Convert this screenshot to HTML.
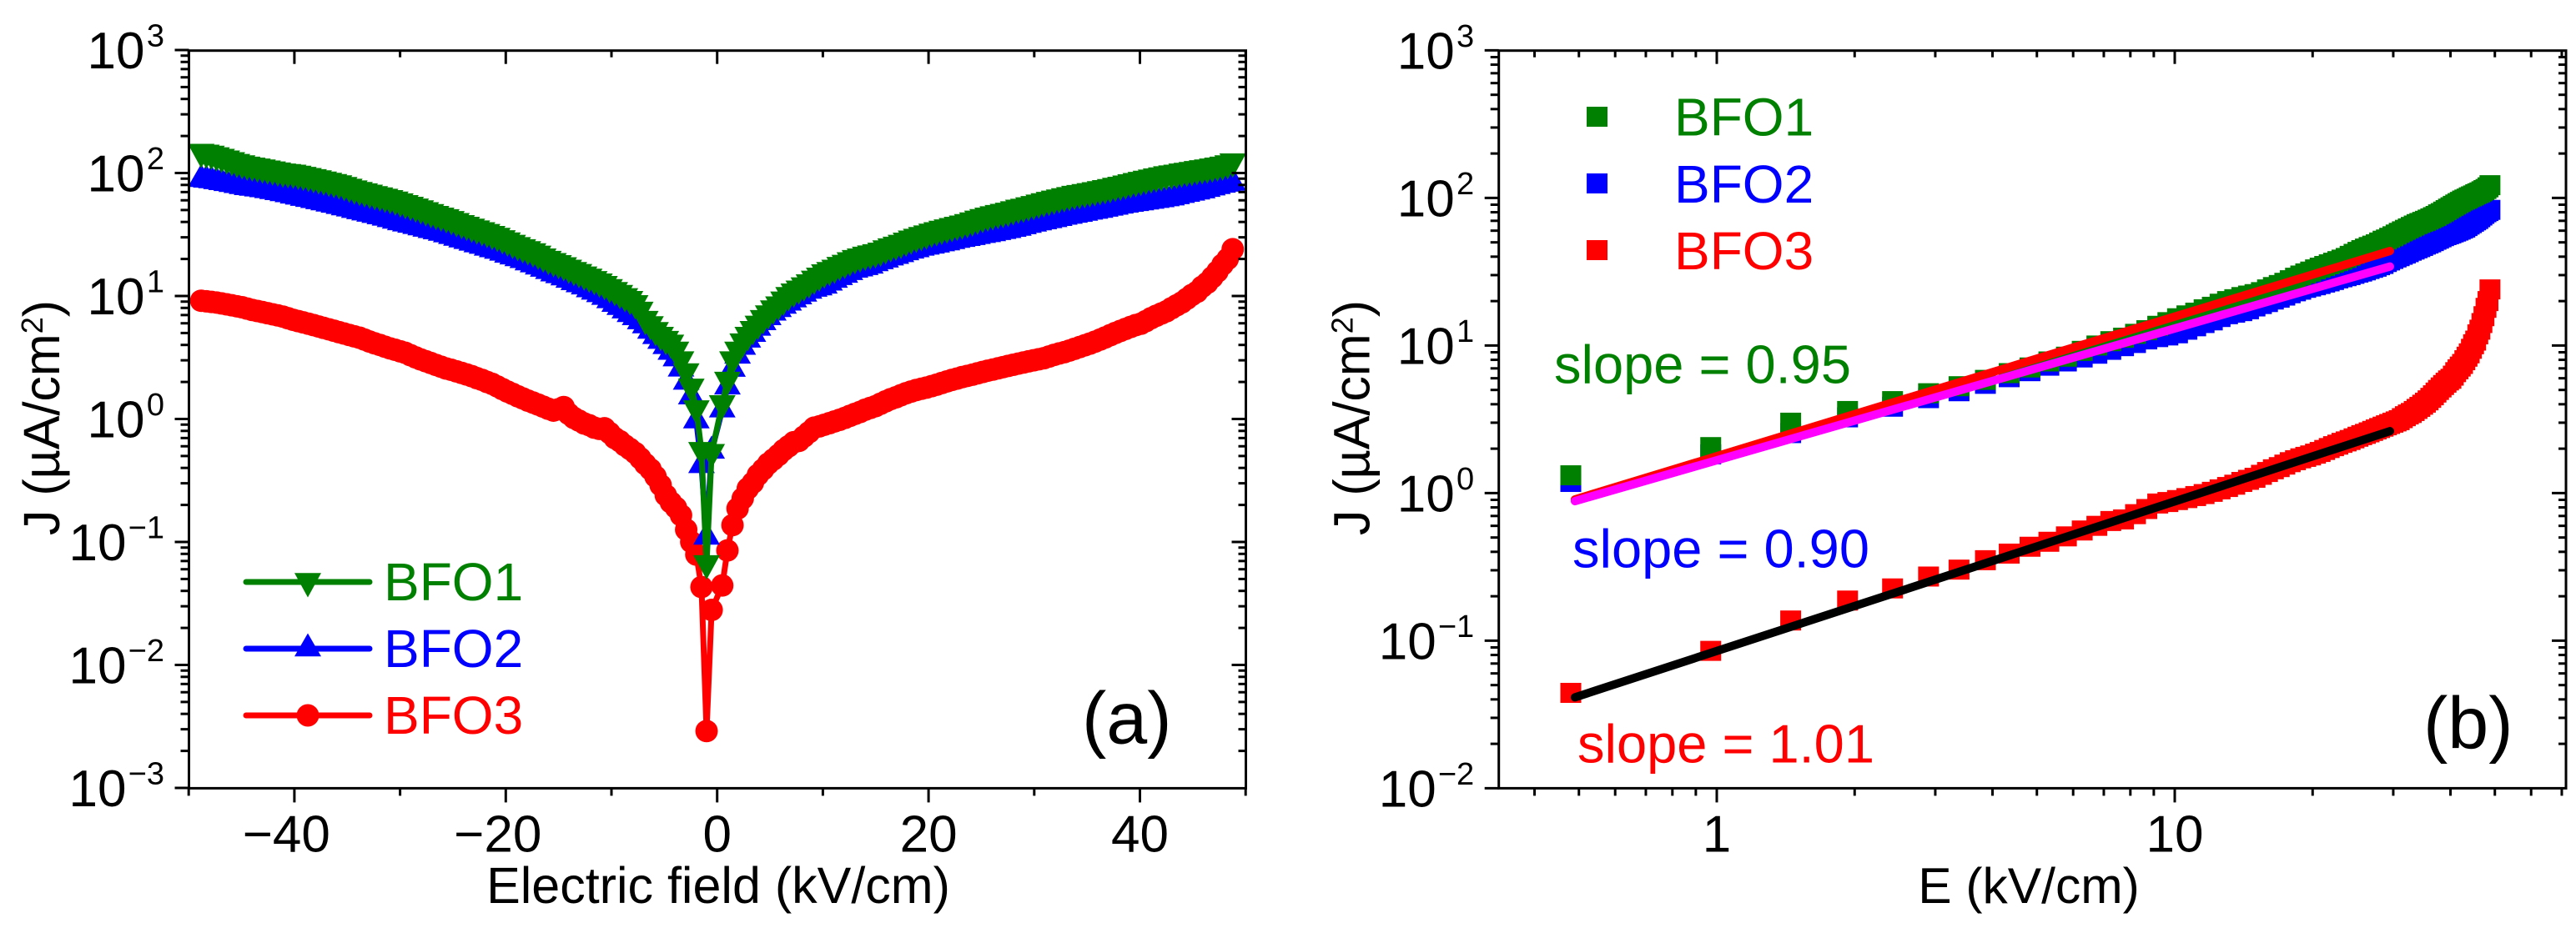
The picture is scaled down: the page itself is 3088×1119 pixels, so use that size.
<!DOCTYPE html>
<html lang="en">
<head>
<meta charset="utf-8">
<title>J-E curves of BFO1, BFO2, BFO3</title>
<style>
html,body{margin:0;padding:0;background:#fff;}
svg{display:block;}
text{font-family:"Liberation Sans",Arial,sans-serif;}
</style>
</head>
<body>
<svg id="fig" xmlns="http://www.w3.org/2000/svg" width="3088" height="1119" viewBox="0 0 3088 1119">
  <rect x="0" y="0" width="3088" height="1119" fill="#fff"/>
  <g id="panelA"></g>
  <g id="panelB"></g>

  <g>
    <g>
      <line x1="295" y1="698" x2="443" y2="698" stroke="#008000" stroke-width="7" stroke-linecap="round"/>
      <polygon points="353,687.3 385,687.3 369,716.5" fill="#008000"/>
      <text x="460" y="720" font-size="64" fill="#008000">BFO1</text>
    </g>
    <g>
      <line x1="295" y1="778" x2="443" y2="778" stroke="#0000ff" stroke-width="7" stroke-linecap="round"/>
      <polygon points="353,787.3 385,787.3 369,759.5" fill="#0000ff"/>
      <text x="460" y="800" font-size="64" fill="#0000ff">BFO2</text>
    </g>
    <g>
      <line x1="295" y1="858" x2="443" y2="858" stroke="#ff0000" stroke-width="7" stroke-linecap="round"/>
      <circle cx="369" cy="858" r="13.5" fill="#ff0000"/>
      <text x="460" y="880" font-size="64" fill="#ff0000">BFO3</text>
    </g>
  </g>

  <g>
    <rect x="1902" y="128" width="25" height="24" fill="#008000"/>
    <text x="2007" y="162.5" font-size="64" fill="#008000">BFO1</text>
    <rect x="1902" y="208" width="25" height="24" fill="#0000ff"/>
    <text x="2007" y="243" font-size="64" fill="#0000ff">BFO2</text>
    <rect x="1902" y="288" width="25" height="24" fill="#ff0000"/>
    <text x="2007" y="323" font-size="64" fill="#ff0000">BFO3</text>
  </g>

  <text x="1863" y="459.6" font-size="65" fill="#008000">slope = 0.95</text>
  <text x="1885" y="680.5" font-size="65" fill="#0000ff">slope = 0.90</text>
  <text x="1891" y="914.7" font-size="65" fill="#ff0000">slope = 1.01</text>

  <text x="1297" y="891.6" font-size="88" fill="#000">(a)</text>
  <text x="2905" y="897.6" font-size="88" fill="#000">(b)</text>

  <text x="861" y="1083" font-size="61" text-anchor="middle" fill="#000">Electric field (kV/cm)</text>
  <text x="2432" y="1083" font-size="60.5" text-anchor="middle" fill="#000">E (kV/cm)</text>
  <text transform="translate(71,501) rotate(-90)" font-size="61" text-anchor="middle" fill="#000">J (µA/cm<tspan dy="-20" font-size="36">2</tspan><tspan dy="20">)</tspan></text>
  <text transform="translate(1641.6,501) rotate(-90)" font-size="61" text-anchor="middle" fill="#000">J (µA/cm<tspan dy="-20" font-size="36">2</tspan><tspan dy="20">)</tspan></text>
</svg>
<script>
const fieldPos = [0.48,0.97,1.45,1.93,2.42,2.9,3.38,3.86,4.35,4.83,5.31,5.8,6.28,6.76,7.25,7.73,8.21,8.69,9.18,9.66,10.14,10.63,11.11,11.59,12.08,12.56,13.04,13.52,14.01,14.49,14.97,15.46,15.94,16.42,16.91,17.39,17.87,18.35,18.84,19.32,19.8,20.29,20.77,21.25,21.74,22.22,22.7,23.18,23.67,24.15,24.63,25.12,25.6,26.08,26.57,27.05,27.53,28.01,28.5,28.98,29.46,29.95,30.43,30.91,31.4,31.88,32.36,32.84,33.33,33.81,34.29,34.78,35.26,35.74,36.23,36.71,37.19,37.67,38.16,38.64,39.12,39.61,40.09,40.57,41.06,41.54,42.02,42.5,42.99,43.47,43.95,44.44,44.92,45.4,45.89,46.37,46.85,47.33,47.82,48.3,48.78];
const bfo1Pos = [1.32,2.05,3.0,3.6,4.2,4.75,5.3,5.85,6.5,7.1,7.8,8.4,9.2,10,10.7,11.3,12,12.7,13.6,14.4,15.3,16,16.7,17.6,18.3,19.2,20,20.6,21.3,21.8,22.3,23,24,24.9,25.7,26.6,27.7,28.8,29.8,30.8,31.7,32.8,33.7,34.6,35.5,36.4,37.3,38.2,39.2,40.5,41.8,43.1,44.3,45.4,46.5,47.5,48.5,49.9,51.3,52.3,53.7,55,56.5,58,59.4,60.8,62.2,63.6,65,66.5,67.6,68.8,70,71.3,72.7,74.1,75.5,77.4,78.9,80.8,82.7,84.6,86.5,88.4,90.3,92.2,94,96,97.5,99,101,102.5,104,106,107.5,109,111,113,115,118,122];
const bfo2Pos = [1.19,1.83,2.55,3.26,3.85,4.4,4.9,5.5,6.1,6.7,7.3,7.8,8.3,8.8,9.35,9.9,10.4,11,11.4,11.7,12.1,12.8,13.5,14.2,14.8,15.6,16.3,16.7,17.1,17.6,18.4,19.1,19.7,20.5,21.1,21.8,22.6,23.3,23.9,24.6,25.1,25.6,26.1,26.7,27.2,27.8,28.5,29,29.5,30,30.6,31.2,31.7,32.3,33,33.6,34.2,35,35.7,36.8,37.7,38.6,39.5,40.3,41.2,42,42.9,43.9,44.7,45.6,46.4,47.3,48.3,49.1,50,51,52.1,53,54.1,55.1,56,56.7,57.5,58.4,59.2,60.1,61,62,63,64.5,66,67.5,69,70.5,72,74,76,78,80,81.5,83];
const bfo3Pos = [0.0443,0.0853,0.137,0.187,0.226,0.272,0.303,0.351,0.389,0.433,0.468,0.509,0.558,0.6,0.647,0.663,0.72,0.78,0.85,0.87,0.897,0.925,0.955,0.985,1.02,1.06,1.1,1.14,1.19,1.23,1.27,1.33,1.39,1.45,1.5,1.56,1.62,1.67,1.72,1.76,1.8,1.85,1.9,1.96,2.02,2.08,2.13,2.19,2.24,2.29,2.35,2.41,2.47,2.52,2.58,2.64,2.7,2.76,2.82,2.88,2.94,3.0,3.06,3.12,3.22,3.32,3.41,3.49,3.6,3.72,3.84,3.97,4.1,4.25,4.42,4.6,4.8,5.0,5.2,5.4,5.6,5.8,5.95,6.25,6.6,6.9,7.2,7.5,7.95,8.4,8.85,9.5,10.2,10.8,11.9,12.8,14.2,15.8,18,20,24];

const fieldMid = [-1,-0.52];
const bfo1Mid = [0.066,0.53];
const bfo2Mid = [0.11,0.55];
const bfo3Mid = [0.0029,0.028];

const fieldNeg = [-1.48,-1.97,-2.45,-2.93,-3.42,-3.9,-4.38,-4.86,-5.35,-5.83,-6.31,-6.8,-7.28,-7.76,-8.25,-8.73,-9.21,-9.69,-10.18,-10.66,-11.14,-11.63,-12.11,-12.59,-13.08,-13.56,-14.04,-14.52,-15.01,-15.49,-15.97,-16.46,-16.94,-17.42,-17.91,-18.39,-18.87,-19.35,-19.84,-20.32,-20.8,-21.29,-21.77,-22.25,-22.74,-23.22,-23.7,-24.18,-24.67,-25.15,-25.63,-26.12,-26.6,-27.08,-27.57,-28.05,-28.53,-29.01,-29.5,-29.98,-30.46,-30.95,-31.43,-31.91,-32.4,-32.88,-33.36,-33.84,-34.33,-34.81,-35.29,-35.78,-36.26,-36.74,-37.23,-37.71,-38.19,-38.67,-39.16,-39.64,-40.12,-40.61,-41.09,-41.57,-42.06,-42.54,-43.02,-43.5,-43.99,-44.47,-44.95,-45.44,-45.92,-46.4,-46.89,-47.37,-47.85,-48.33,-48.82];
const bfo1Neg = [0.55,1.2,1.8,2.4,3,3.6,4.1,4.4,4.75,5.2,5.8,6.4,7.6,8.6,9.3,9.8,10.4,11,11.6,12.3,12.9,13.5,14.1,14.7,15.4,16,16.7,17.5,18.2,18.9,19.7,20.6,21.7,22.7,23.6,24.5,25.5,26.6,27.8,29,30.3,31.4,32.6,33.7,34.8,36,37.3,38.5,40,41.5,43,44.3,45.7,47.3,49,50.7,52.5,54.2,56,57.8,59.8,61.5,63,64.6,66.2,68,69.8,71.6,73.6,76,78.5,81,83,85,87,89,91,93,95,97,99,100,101,103,105,107,109,111,113,115,118,121,125,129,133,137,141,144,146];
const bfo2Neg = [0.42,0.97,1.52,2,2.56,3.1,3.5,3.9,4.3,4.7,5.2,5.75,6.2,6.7,7.1,7.6,8.1,8.6,9.2,9.8,10.3,10.8,11.3,11.9,12.4,12.9,13.5,14.1,14.7,15.2,15.9,16.6,17.3,18,18.7,19.5,20.2,20.9,21.6,22.4,23.2,23.9,24.6,25.5,26.2,27,27.9,28.7,29.6,30.6,31.6,32.5,33.4,34.2,35.1,36,36.9,37.8,38.7,39.6,40.8,42,43.2,44.3,45.4,46.5,47.6,48.7,49.9,51.2,52.4,53.7,55,56.2,57.5,58.7,60,61.3,62.5,64,65.3,67,68.3,69.6,71,72.3,73.5,74.5,75.5,76.5,78,79.5,81,82.5,84,85.5,87,88,89];
const bfo3Neg = [0.043,0.079,0.1,0.126,0.165,0.19,0.21,0.24,0.29,0.34,0.39,0.43,0.48,0.53,0.57,0.61,0.66,0.7,0.77,0.84,0.83,0.85,0.89,0.92,0.97,1.02,1.1,1.25,1.2,1.17,1.21,1.26,1.31,1.36,1.41,1.47,1.53,1.6,1.67,1.75,1.84,1.93,2.0,2.08,2.15,2.23,2.3,2.37,2.44,2.51,2.57,2.66,2.75,2.85,2.95,3.05,3.17,3.3,3.45,3.55,3.65,3.75,3.87,4,4.12,4.26,4.42,4.58,4.7,4.82,4.95,5.08,5.22,5.36,5.5,5.65,5.8,5.95,6.1,6.25,6.4,6.6,6.8,6.95,7.1,7.25,7.4,7.55,7.7,7.9,8.1,8.25,8.4,8.55,8.7,8.85,8.95,9.05,9.15];

const fitField = [0.49,29.5];
const fitBfo1 = [0.906,43.7];
const fitBfo2 = [0.882,34.3];
const fitBfo3 = [0.0413,2.63];

const xTicksA = [-50,-40,-30,-20,-10,0,10,20,30,40,50];
const xLabelsA = [-40,-20,0,20,40];
const yExpA = [3,2,1,0,-1,-2,-3];
const yExpB = [3,2,1,0,-1,-2];
const xTicksBMinor = [0.4,0.5,0.6,0.7,0.8,0.9,2,3,4,5,6,7,8,9,20,30,40,50,60,70];
const xTicksBMajor = [1,10];
const yMinorFactors = [2,3,4,5,6,7,8,9];

const xA = v => 859.7 + v * 12.67;
const yA = v => 502.5 - Math.log10(v) * 147.5;
const xB = v => 2058 + Math.log10(v) * 549;
const yB = v => 591.4 - Math.log10(v) * 177;

const NS = 'http://www.w3.org/2000/svg';
function make(tag, attrs, parent) {
  const el = document.createElementNS(NS, tag);
  for (const k in attrs) el.setAttribute(k, attrs[k]);
  parent.appendChild(el);
  return el;
}
function tick(parent, x1, y1, x2, y2) {
  const el = make('line', {x1: x1, y1: y1, x2: x2, y2: y2, stroke: '#000', 'stroke-width': 3}, parent);
  
  
}
function frame(parent, L, R, T, B) {
  const el = make('rect', {x: L, y: T, width: R - L, height: B - T, fill: 'none', stroke: '#000', 'stroke-width': 3}, parent);
  
  
}
function label(parent, txt, x, y, size, anchor) {
  const el = make('text', {x: x, y: y, 'font-size': size, 'text-anchor': anchor, fill: '#000'}, parent);
  el.textContent = txt;
  
  
}
function yLabels(parent, exps, yf, L) {
  exps.forEach(function (e) {
    const y = yf(Math.pow(10, e));
    label(parent, '10', e < 0 ? L - 75 : L - 53, y + 22, 62, 'end');
    label(parent, e < 0 ? '\u2212' + (-e) : String(e), L - 29.5, y - 4.3, 38, 'end');
  });
}
function yTicks(parent, exps, yf, L, R) {
  exps.forEach(function (e, i) {
    const base = Math.pow(10, e);
    const y = yf(base);
    tick(parent, L - 17, y, L, y);
    if (i > 0 && i < exps.length - 1) tick(parent, R - 17, y, R, y);
    if (e < exps[0]) yMinorFactors.forEach(function (f) {
      const ym = yf(base * f);
      tick(parent, L - 10, ym, L, ym);
      tick(parent, R - 9, ym, R, ym);
    });
  });
}
function addMarker(parent, shape, cx, cy, color) {
  let el;
  if (shape === 'down') {
    el = make('polygon', {points: (cx - 16) + ',' + (cy - 10.7) + ' ' + (cx + 16) + ',' + (cy - 10.7) + ' ' + cx + ',' + (cy + 18.5), fill: color}, parent);
  } else if (shape === 'up') {
    el = make('polygon', {points: (cx - 16) + ',' + (cy + 9.3) + ' ' + (cx + 16) + ',' + (cy + 9.3) + ' ' + cx + ',' + (cy - 18.5), fill: color}, parent);
  } else if (shape === 'circle') {
    el = make('circle', {cx: cx, cy: cy, r: 13.5, fill: color}, parent);
  } else {
    el = make('rect', {x: cx - 12.5, y: cy - 12, width: 25, height: 24, fill: color}, parent);
  }
  
  
}

const panelA = document.getElementById('panelA');
const panelB = document.getElementById('panelB');

/* Panel (a) series */
const fieldAll = fieldNeg.slice().reverse().concat(fieldMid, fieldPos);
const seriesA = [
  {vals: bfo3Neg.slice().reverse().concat(bfo3Mid, bfo3Pos), color: '#ff0000', shape: 'circle', name: 'series-bfo3-a'},
  {vals: bfo2Neg.slice().reverse().concat(bfo2Mid, bfo2Pos), color: '#0000ff', shape: 'up', name: 'series-bfo2-a'},
  {vals: bfo1Neg.slice().reverse().concat(bfo1Mid, bfo1Pos), color: '#008000', shape: 'down', name: 'series-bfo1-a'}
];
seriesA.forEach(function (s) {
  const g = make('g', {}, panelA);
  
  
  const pts = s.vals.map(function (v, i) { return xA(fieldAll[i]).toFixed(1) + ',' + yA(v).toFixed(1); }).join(' ');
  const line = make('polyline', {points: pts, fill: 'none', stroke: s.color, 'stroke-width': 7, 'stroke-linejoin': 'round'}, g);
  
  
  s.vals.forEach(function (v, i) { addMarker(g, s.shape, xA(fieldAll[i]), yA(v), s.color); });
});

/* Panel (a) axes */
const axA = make('g', {}, panelA);


const LA = 226.5, RA = 1493.5, TA = 60.7, BA = 945.4;
frame(axA, LA, RA, TA, BA);
xTicksA.forEach(function (v) {
  const x = xA(v);
  const major = xLabelsA.indexOf(v) >= 0;
  tick(axA, x, BA, x, BA + (major ? 17 : 9));
  tick(axA, x, TA, x, TA + (major ? 16 : 8));
});
xLabelsA.forEach(function (v) {
  if (v < 0) label(axA, '\u2212' + (-v), xA(v) + 43, 1021.7, 62, 'end');
  else label(axA, String(v), xA(v), 1021.7, 62, 'middle');
});
yTicks(axA, yExpA, yA, LA, RA);
yLabels(axA, yExpA, yA, LA);

/* Panel (b) series */
const seriesB = [
  {vals: bfo3Pos, color: '#ff0000', name: 'series-bfo3-b'},
  {vals: bfo2Pos, color: '#0000ff', name: 'series-bfo2-b'},
  {vals: bfo1Pos, color: '#008000', name: 'series-bfo1-b'}
];
seriesB.forEach(function (s) {
  const g = make('g', {}, panelB);
  
  
  s.vals.forEach(function (v, i) { addMarker(g, 'square', xB(fieldPos[i]), yB(v), s.color); });
});

/* Panel (b) fits */
const fits = [
  {vals: fitBfo1, color: '#ff0000', name: 'fit-line-bfo1'},
  {vals: fitBfo2, color: '#ff00ff', name: 'fit-line-bfo2'},
  {vals: fitBfo3, color: '#000000', name: 'fit-line-bfo3'}
];
fits.forEach(function (f) {
  const el = make('line', {x1: xB(fitField[0]), y1: yB(f.vals[0]), x2: xB(fitField[1]), y2: yB(f.vals[1]), stroke: f.color, 'stroke-width': 10, 'stroke-linecap': 'round'}, panelB);
  
  
});

/* Panel (b) axes */
const axB = make('g', {}, panelB);


const LB = 1796.7, RB = 3076, TB = 60.7, BB = 945.4;
frame(axB, LB, RB, TB, BB);
xTicksBMinor.forEach(function (v) {
  const x = xB(v);
  tick(axB, x, BB, x, BB + 9);
  tick(axB, x, TB, x, TB + 8);
});
xTicksBMajor.forEach(function (v) {
  const x = xB(v);
  tick(axB, x, BB, x, BB + 17);
  tick(axB, x, TB, x, TB + 16);
  label(axB, String(v), x, 1021.7, 62, 'middle');
});
yTicks(axB, yExpB, yB, LB, RB);
yLabels(axB, yExpB, yB, LB);
</script>
</body>
</html>
